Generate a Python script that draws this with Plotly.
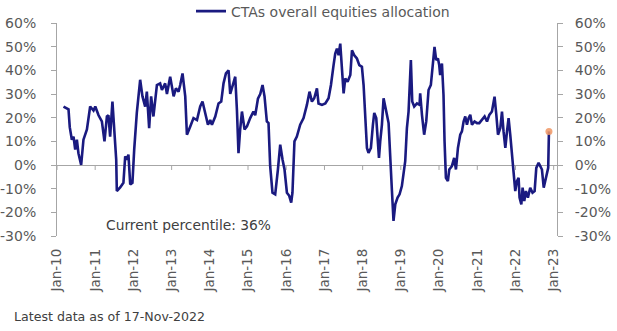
import plotly.graph_objects as go

dates = [
    "2010-03-04", "2010-04-06", "2010-04-21", "2010-05-03", "2010-05-17", "2010-05-23", "2010-06-08", "2010-06-24",
    "2010-07-10", "2010-07-25", "2010-08-20", "2010-09-11", "2010-10-14", "2010-10-29", "2010-11-14", "2010-12-16",
    "2011-01-02", "2011-02-02", "2011-03-06", "2011-03-31", "2011-04-23", "2011-05-08", "2011-05-24", "2011-06-15",
    "2011-07-04", "2011-07-21", "2011-07-27", "2011-08-28", "2011-09-28", "2011-10-15", "2011-10-31", "2011-11-15",
    "2011-12-02", "2011-12-23", "2012-01-09", "2012-02-03", "2012-03-06", "2012-03-28", "2012-04-23", "2012-05-09",
    "2012-05-31", "2012-06-19", "2012-07-11", "2012-08-13", "2012-09-13", "2012-09-30", "2012-10-31", "2012-11-17",
    "2012-12-18", "2013-01-20", "2013-02-11", "2013-03-08", "2013-03-24", "2013-04-15", "2013-05-11", "2013-05-27",
    "2013-06-28", "2013-07-29", "2013-08-31", "2013-10-01", "2013-10-23", "2013-11-18", "2013-12-14", "2014-01-05",
    "2014-01-21", "2014-02-22", "2014-03-25", "2014-04-20", "2014-05-12", "2014-06-04", "2014-06-29", "2014-07-15",
    "2014-08-06", "2014-09-01", "2014-09-17", "2014-10-02", "2014-10-18", "2014-11-04", "2014-11-29", "2014-12-22",
    "2015-01-22", "2015-02-22", "2015-03-11", "2015-04-06", "2015-04-28", "2015-05-20", "2015-06-08", "2015-06-30",
    "2015-07-16", "2015-08-01", "2015-08-23", "2015-09-18", "2015-10-14", "2015-11-05", "2015-11-27", "2015-12-16",
    "2016-01-08", "2016-01-30", "2016-02-18", "2016-03-01", "2016-03-20", "2016-04-12", "2016-05-14", "2016-06-15",
    "2016-07-17", "2016-08-11", "2016-09-03", "2016-09-25", "2016-10-21", "2016-11-05", "2016-12-08", "2017-01-09",
    "2017-02-09", "2017-03-04", "2017-03-29", "2017-04-14", "2017-04-30", "2017-05-16", "2017-06-01", "2017-06-17",
    "2017-07-03", "2017-07-19", "2017-08-10", "2017-09-05", "2017-09-21", "2017-10-13", "2017-11-07", "2017-11-30",
    "2017-12-25", "2018-01-10", "2018-01-26", "2018-02-11", "2018-02-26", "2018-03-21", "2018-04-09", "2018-04-22",
    "2018-05-11", "2018-05-23", "2018-06-06", "2018-06-18", "2018-07-04", "2018-07-20", "2018-08-05", "2018-08-21",
    "2018-09-06", "2018-09-22", "2018-10-08", "2018-10-23", "2018-11-09", "2018-12-01", "2018-12-20", "2019-01-11",
    "2019-01-27", "2019-02-12", "2019-02-28", "2019-03-16", "2019-04-07", "2019-04-20", "2019-05-09", "2019-06-04",
    "2019-06-29", "2019-07-05", "2019-07-22", "2019-08-12", "2019-09-01", "2019-09-23", "2019-10-15", "2019-11-10",
    "2019-11-19", "2019-12-05", "2019-12-22", "2020-01-03", "2020-01-12", "2020-01-29", "2020-02-13", "2020-02-23",
    "2020-03-07", "2020-03-26", "2020-04-08", "2020-05-03", "2020-05-25", "2020-06-11", "2020-06-30", "2020-07-22",
    "2020-08-07", "2020-08-23", "2020-09-08", "2020-09-24", "2020-10-10", "2020-10-26", "2020-11-11", "2020-12-06",
    "2020-12-29", "2021-01-20", "2021-02-15", "2021-03-12", "2021-04-04", "2021-04-26", "2021-05-21", "2021-06-15",
    "2021-07-02", "2021-07-18", "2021-08-09", "2021-08-25", "2021-09-09", "2021-09-26", "2021-10-12", "2021-10-27",
    "2021-11-12", "2021-11-29", "2021-12-14", "2021-12-30", "2022-01-15", "2022-01-31", "2022-02-09", "2022-02-26",
    "2022-03-10", "2022-03-26", "2022-04-11", "2022-04-30", "2022-05-22", "2022-06-13", "2022-07-03", "2022-07-19",
    "2022-08-10", "2022-08-26", "2022-09-11", "2022-09-28", "2022-10-20", "2022-11-10", "2022-11-17",
]

allocation = [
    24.7, 24.0, 23.5, 16.0, 13.0, 10.7, 12.0, 6.5,
    10.7, 5.0, 0.0, 10.7, 15.0, 19.0, 24.7, 23.0,
    24.7, 21.0, 18.4, 10.0, 20.5, 21.0, 12.0, 26.8,
    10.7, 2.3, -11.0, -9.5, -7.5, 3.7, 2.3, 4.4,
    -8.2, -7.5, 6.5, 22.0, 36.0, 29.0, 24.7, 31.0,
    15.6, 29.0, 20.5, 33.8, 34.5, 31.7, 34.5, 30.0,
    37.3, 29.0, 32.4, 31.0, 33.8, 38.7, 29.0, 12.8,
    16.3, 19.8, 19.0, 24.7, 26.8, 22.0, 17.0, 19.0,
    17.0, 20.5, 26.0, 26.8, 34.5, 38.7, 40.0, 30.0,
    33.8, 37.3, 23.3, 5.0, 15.0, 22.6, 15.0, 16.3,
    19.8, 22.6, 21.0, 28.0, 30.0, 33.8, 29.0, 18.4,
    17.7, -0.5, -11.7, -12.4, -1.9, 8.6, 2.3, -1.9,
    -11.7, -13.0, -15.9, -11.7, 10.0, 12.0, 17.0, 19.8,
    25.4, 31.0, 26.8, 28.2, 32.4, 26.0, 25.4, 26.0,
    28.2, 33.8, 42.2, 47.1, 49.2, 46.4, 51.3, 39.4,
    30.3, 36.6, 35.2, 38.0, 48.5, 46.4, 45.0, 42.2,
    41.5, 33.8, 19.8, 7.2, 5.1, 7.2, 17.0, 22.0,
    19.8, 12.8, 3.0, 10.0, 17.0, 28.2, 24.0, 21.2,
    17.7, 0.0, -11.0, -23.6, -16.6, -13.8, -12.4, -8.9,
    -4.0, 1.6, 15.6, 22.6, 44.3, 26.8, 24.7, 26.0,
    25.4, 30.3, 21.2, 12.8, 18.4, 31.7, 33.8, 44.3,
    49.9, 44.3, 45.0, 42.2, 38.0, 42.9, 29.6, 10.0,
    -5.4, -6.8, -1.9, -0.5, 3.0, -1.9, 7.2, 12.8,
    14.2, 18.4, 20.5, 17.0, 19.8, 21.2, 17.0, 18.4,
    17.7, 17.7, 19.1, 20.5, 18.4, 21.2, 22.6, 28.9,
    21.2, 12.8, 15.6, 22.6, 14.2, 7.2, 14.2, 19.8,
    12.8, 3.0, -4.0, -11.0, -6.8, -5.4, -13.8, -16.6,
    -9.6, -15.2, -11.0, -13.8, -9.6, -11.7, -11.0, -1.2,
    0.9, -0.5, -1.9, -9.6, -5.4, -1.2, 14.2,
]

year_ticks = [f"{y}-01-01" for y in range(2010, 2024)]
year_labels = [f"Jan-{str(y)[2:]}" for y in range(2010, 2024)]
pct_ticks = [60, 50, 40, 30, 20, 10, 0, -10, -20, -30]
pct_labels = [f"{v}%" for v in pct_ticks]

series_name = "CTAs overall equities allocation"
percentile_text = "Current percentile: 36%"
footnote_text = "Latest data as of 17-Nov-2022"

LINE = "#1a1a80"
AXIS = "#a6a6a6"
TEXT = "#595959"
FONT = "DejaVu Sans"
x_range = ["2010-01-01", "2023-02-02"]
y_range = [-30, 60]
tick_drop = 2.1  # length of the small downward ticks on the zero line, in % units

fig = go.Figure()
fig.add_trace(go.Scatter(
    x=year_ticks, y=[0] * len(year_ticks), mode="markers", showlegend=False,
    hoverinfo="skip", marker=dict(size=0.1, color="rgba(0,0,0,0)"),
    error_y=dict(type="data", symmetric=False, array=[0] * len(year_ticks),
                 arrayminus=[tick_drop] * len(year_ticks), width=0,
                 color=AXIS, thickness=1),
))
fig.add_trace(go.Scatter(
    x=dates, y=allocation, mode="lines", name=series_name,
    line=dict(color=LINE, width=2.6), showlegend=True,
))
fig.add_trace(go.Scatter(
    x=[dates[-1]], y=[allocation[-1]], mode="markers", showlegend=False,
    yaxis="y2",
    marker=dict(color="rgba(240,150,100,0.85)", size=7, line=dict(width=0)),
))

fig.update_layout(
    width=617, height=331,
    margin=dict(l=57, r=60, t=23, b=95, autoexpand=False),
    paper_bgcolor="white", plot_bgcolor="white",
    font=dict(family=FONT, size=13, color=TEXT),
    showlegend=True,
    legend=dict(
        orientation="h", x=0.268, y=1.129, xanchor="left", yanchor="top",
        font=dict(family=FONT, size=14, color=TEXT),
        bgcolor="rgba(0,0,0,0)", itemwidth=30,
    ),
    xaxis=dict(
        type="date", range=x_range, tickmode="array", tickvals=year_ticks,
        ticktext=year_labels, tickangle=-90, showline=False, ticks="",
        showgrid=False, zeroline=False, ticklabelstandoff=9,
        tickfont=dict(family=FONT, size=13.5, color=TEXT),
    ),
    yaxis=dict(
        range=y_range, tickmode="array", tickvals=pct_ticks, ticktext=pct_labels,
        showline=True, linecolor=AXIS, linewidth=1, ticks="outside", ticklen=5,
        tickcolor=AXIS, showgrid=False, zeroline=True, zerolinecolor=AXIS,
        zerolinewidth=1, ticklabelstandoff=12,
        tickfont=dict(family=FONT, size=14, color=TEXT),
    ),
    yaxis2=dict(
        range=y_range, overlaying="y", side="right", anchor="x",
        tickmode="array", tickvals=pct_ticks, ticktext=pct_labels,
        showline=True, linecolor=AXIS, linewidth=1, ticks="outside", ticklen=5,
        tickcolor=AXIS, showgrid=False, zeroline=False, ticklabelstandoff=9,
        tickfont=dict(family=FONT, size=14, color=TEXT),
    ),
    annotations=[
        dict(text=percentile_text, xref="paper", yref="y", x=0.263, y=-25.3,
             showarrow=False, xanchor="center", yanchor="middle",
             font=dict(family=FONT, size=13.8, color="#404040")),
        dict(text=footnote_text, xref="paper", yref="paper", x=-0.09, y=-0.3756,
             showarrow=False, xanchor="left", yanchor="middle",
             font=dict(family=FONT, size=12.6, color="#404040")),
    ],
)

fig.write_html("out.html")
